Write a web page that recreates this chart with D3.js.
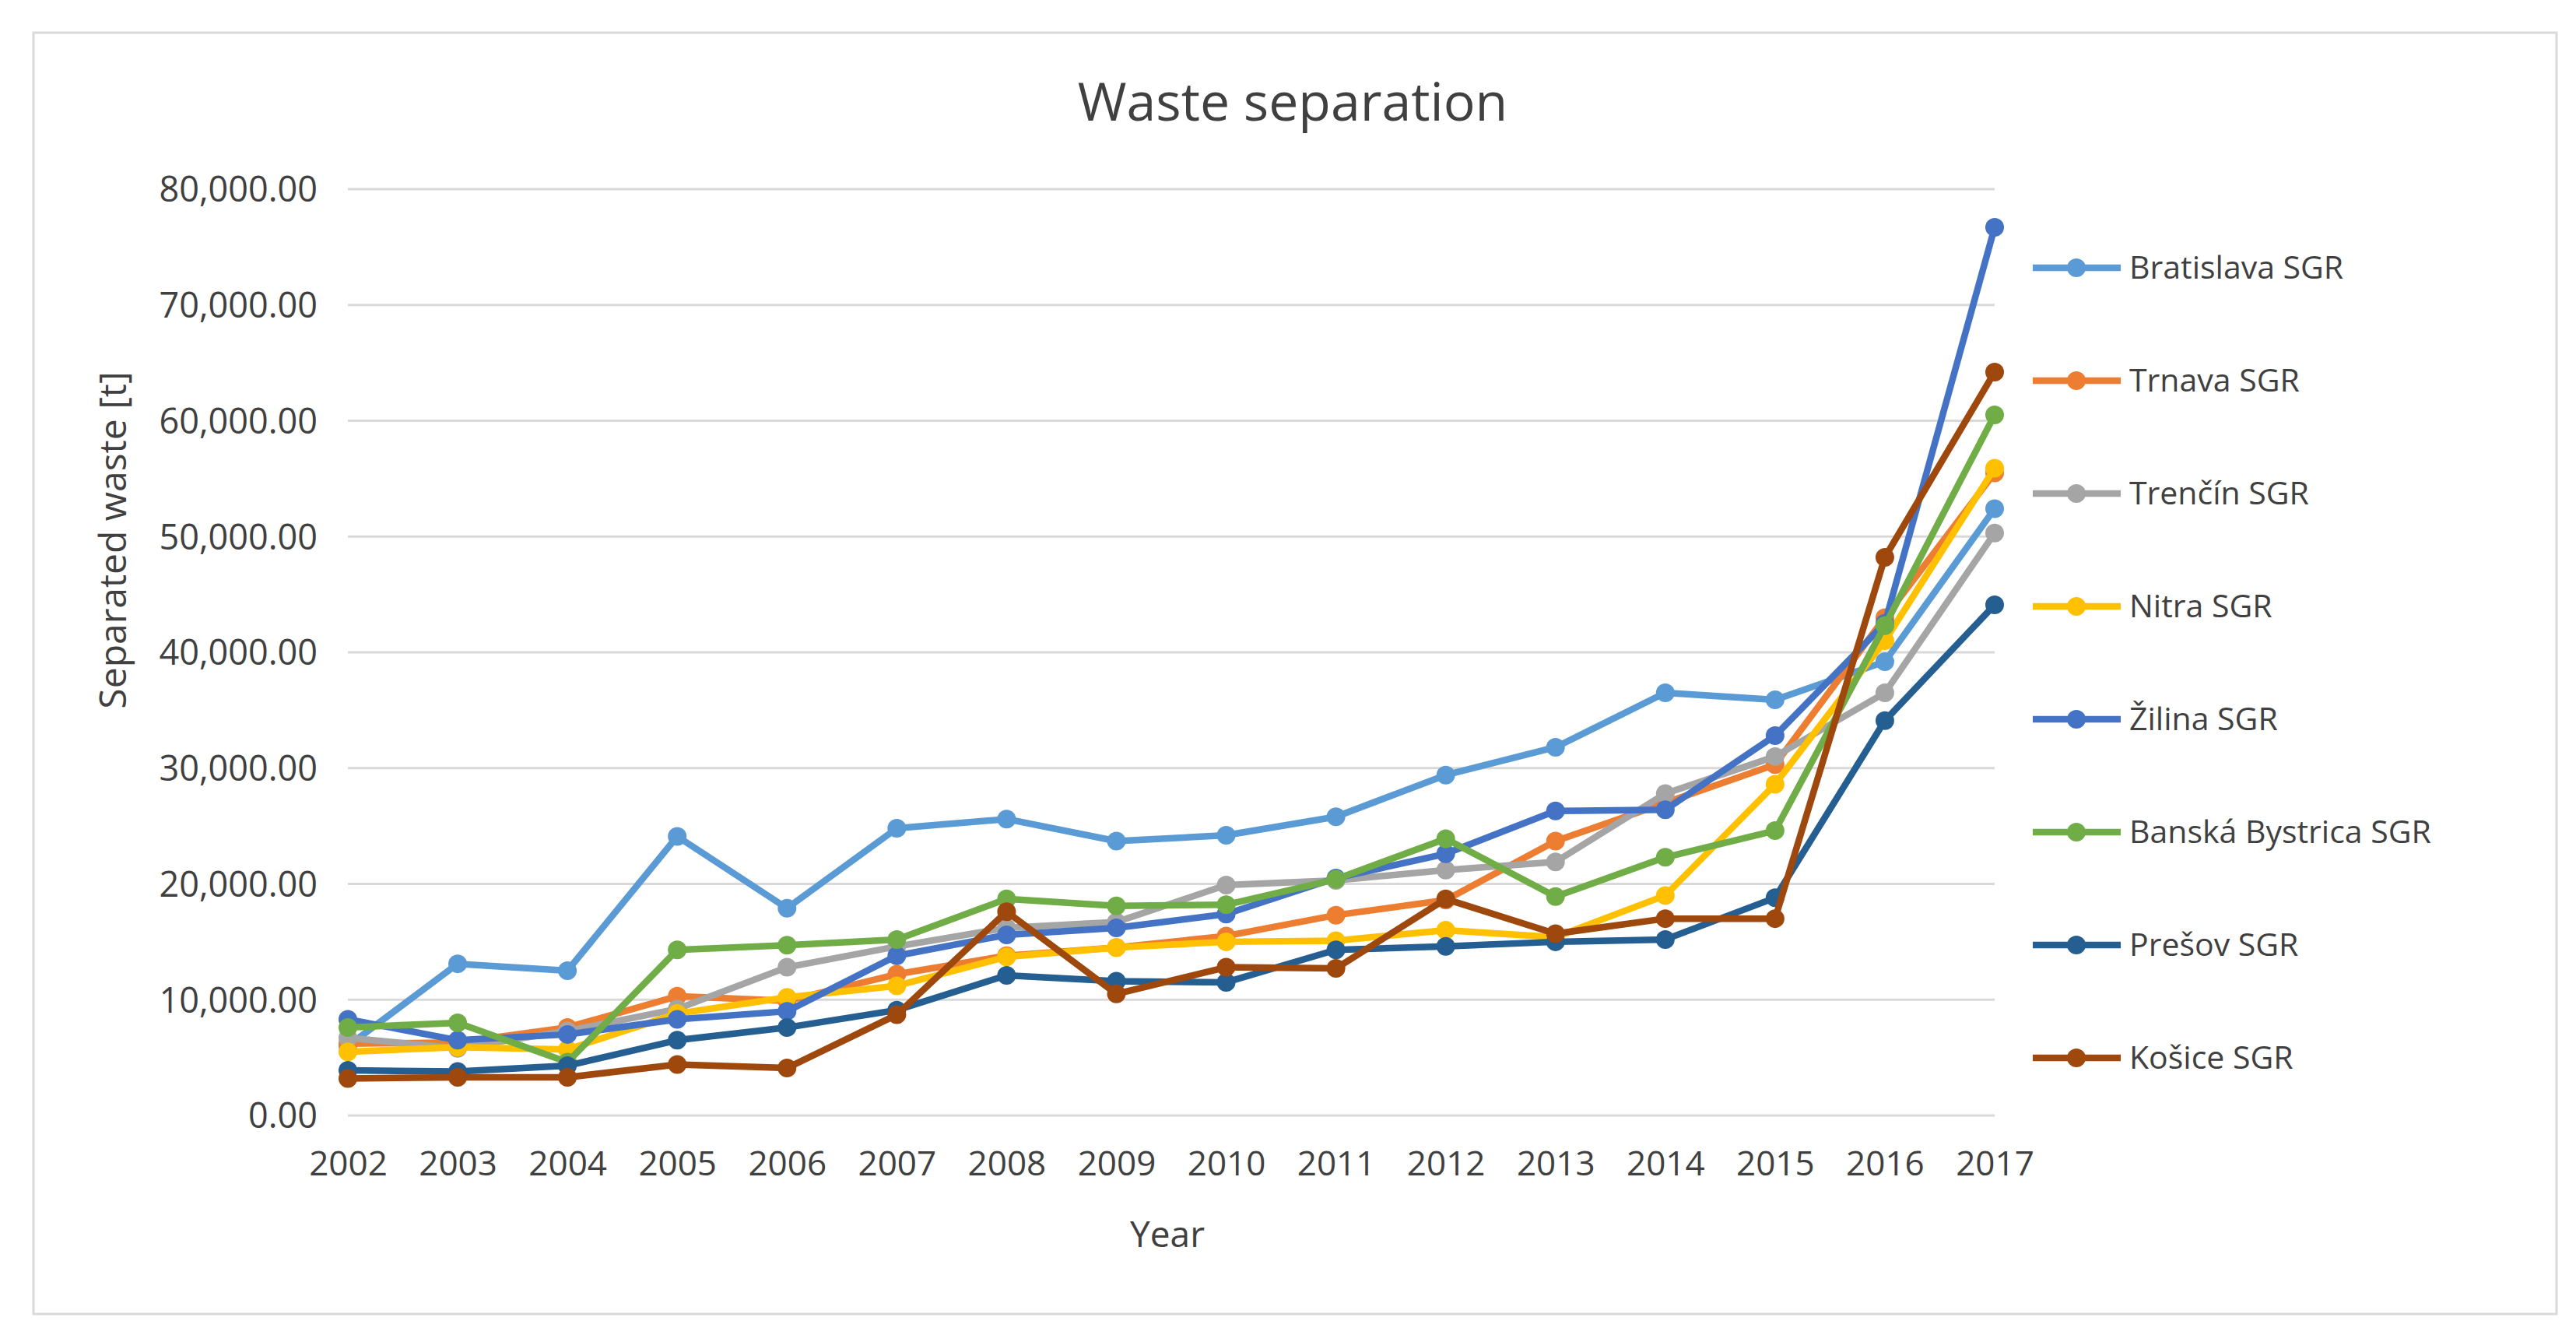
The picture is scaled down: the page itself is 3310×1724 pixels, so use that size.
<!DOCTYPE html>
<html>
<head>
<meta charset="utf-8">
<script src="https://cdn.jsdelivr.net/npm/d3@7"></script>
<style>
  body { margin: 0; background: #fff; }
  svg text { font-family: "Open Sans", "Liberation Sans", sans-serif; fill: #404040; }
</style>
</head>
<body>
<div id="chart"></div>
<script>
const years = [2002, 2003, 2004, 2005, 2006, 2007, 2008, 2009, 2010, 2011, 2012, 2013, 2014, 2015, 2016, 2017];
const regions = ['Bratislava SGR', 'Trnava SGR', 'Trenčín SGR', 'Nitra SGR', 'Žilina SGR', 'Banská Bystrica SGR', 'Prešov SGR', 'Košice SGR'];
const colors = ['#5B9BD5', '#ED7D31', '#A5A5A5', '#FFC000', '#4472C4', '#70AD47', '#255E91', '#9E480E'];

const bratislava = [6000, 13100, 12500, 24100, 17900, 24800, 25600, 23700, 24200, 25800, 29400, 31800, 36500, 35900, 39200, 52400];
const trnava = [6200, 6300, 7600, 10300, 9900, 12200, 13800, 14500, 15500, 17300, 18600, 23700, 27000, 30300, 43000, 55500];
const trencin = [6700, 5800, 7300, 9200, 12800, 14600, 16200, 16700, 19900, 20300, 21200, 21900, 27800, 31000, 36500, 50300];
const nitra = [5500, 5900, 5700, 8800, 10200, 11200, 13700, 14500, 15000, 15100, 16000, 15400, 19000, 28600, 41000, 55900];
const zilina = [8300, 6500, 7000, 8300, 9000, 13800, 15600, 16200, 17400, 20500, 22600, 26300, 26400, 32800, 42500, 76700];
const banskaBystrica = [7600, 8000, 4600, 14300, 14700, 15200, 18700, 18100, 18200, 20400, 23900, 18900, 22300, 24600, 42300, 60500];
const presov = [3900, 3800, 4300, 6500, 7600, 9100, 12100, 11600, 11500, 14300, 14600, 15000, 15200, 18800, 34100, 44100];
const kosice = [3200, 3300, 3300, 4400, 4100, 8700, 17600, 10500, 12800, 12700, 18700, 15700, 17000, 17000, 48200, 64200];

const yTicks = [0, 10000, 20000, 30000, 40000, 50000, 60000, 70000, 80000];

const series = [bratislava, trnava, trencin, nitra, zilina, banskaBystrica, presov, kosice]
    .map((values, i) => ({ name: regions[i], color: colors[i], values: values }));

const width = 3310, height = 1724;
const svg = d3.select('#chart').append('svg')
    .attr('width', width)
    .attr('height', height);

// chart frame
svg.append('rect')
    .attr('x', 43).attr('y', 42)
    .attr('width', 3242).attr('height', 1646)
    .attr('fill', '#fff')
    .attr('stroke', '#D9D9D9')
    .attr('stroke-width', 3);

const x = d3.scalePoint().domain(years).range([447, 2563]);
const y = d3.scaleLinear().domain([0, 80000]).range([1433, 243]);

// gridlines
svg.append('g')
    .selectAll('line')
    .data(yTicks)
    .enter()
    .append('line')
    .attr('x1', 447).attr('x2', 2563)
    .attr('y1', d => y(d)).attr('y2', d => y(d))
    .attr('stroke', '#D9D9D9')
    .attr('stroke-width', 3);

// y axis
const yAxis = svg.append('g')
    .attr('transform', 'translate(412,0)')
    .call(d3.axisLeft(y).tickValues(yTicks).tickFormat(d3.format(',.2f')).tickSize(0));
yAxis.select('.domain').remove();
yAxis.selectAll('text').attr('font-size', 45).attr('dy', '0.35em').attr('x', -4);

// x axis
const xAxis = svg.append('g')
    .attr('transform', 'translate(0,1474)')
    .call(d3.axisBottom(x).tickSize(0));
xAxis.select('.domain').remove();
xAxis.selectAll('text').attr('font-size', 44).attr('dy', '0.75em');

// titles
svg.append('text')
    .attr('x', 1661).attr('y', 155)
    .attr('text-anchor', 'middle')
    .attr('font-size', 68)
    .text('Waste separation');

svg.append('text')
    .attr('x', 1500).attr('y', 1602)
    .attr('text-anchor', 'middle')
    .attr('font-size', 46)
    .text('Year');

svg.append('text')
    .attr('transform', 'translate(162,694) rotate(-90)')
    .attr('text-anchor', 'middle')
    .attr('font-size', 48)
    .text('Separated waste [t]');

// lines
const line = d3.line()
    .x((d, i) => x(years[i]))
    .y(d => y(d));

const groups = svg.append('g')
    .selectAll('g')
    .data(series)
    .enter()
    .append('g');

groups.append('path')
    .attr('d', d => line(d.values))
    .attr('fill', 'none')
    .attr('stroke', d => d.color)
    .attr('stroke-width', 8.5)
    .attr('stroke-linejoin', 'round');

groups.selectAll('circle')
    .data(d => d.values.map((v, i) => ({ v: v, i: i, color: d.color })))
    .enter()
    .append('circle')
    .attr('cx', d => x(years[d.i]))
    .attr('cy', d => y(d.v))
    .attr('r', 12)
    .attr('fill', d => d.color);

// legend
const legend = svg.append('g')
    .selectAll('g')
    .data(series)
    .enter()
    .append('g')
    .attr('transform', (d, i) => `translate(2612,${344 + i * 145})`);

legend.append('line')
    .attr('x1', 0).attr('x2', 113)
    .attr('stroke', d => d.color)
    .attr('stroke-width', 8.5);

legend.append('circle')
    .attr('cx', 56).attr('r', 12)
    .attr('fill', d => d.color);

legend.append('text')
    .attr('x', 124)
    .attr('dy', '0.35em')
    .attr('font-size', 41)
    .text(d => d.name);
</script>
</body>
</html>
